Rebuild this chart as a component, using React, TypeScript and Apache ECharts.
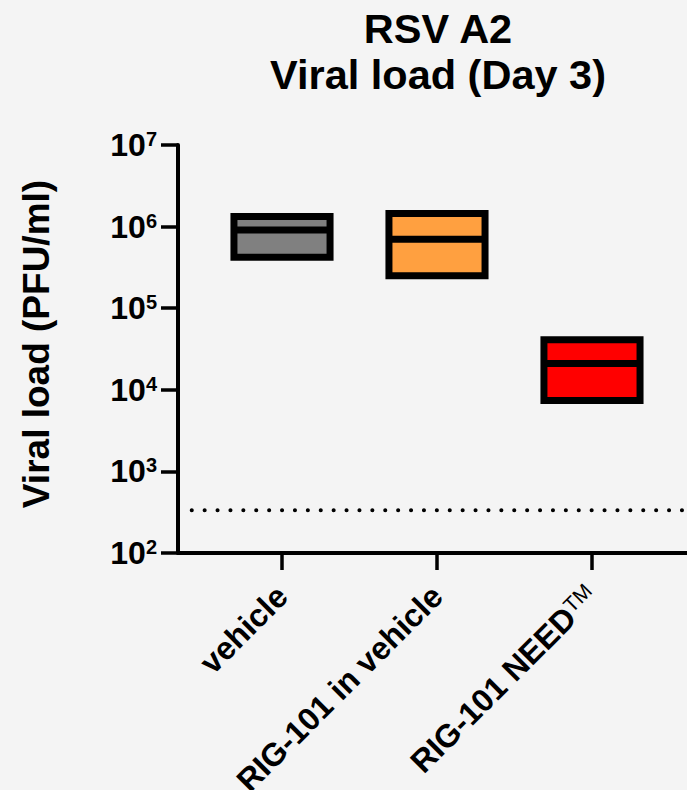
import React, { useEffect, useRef } from "react";
import * as echarts from "echarts";

const categories = ["vehicle", "RIG-101 in vehicle", "RIG-101 NEED"];
const lows = [4.2e5, 2.5e5, 7.4e3];
const medians = [9.1e5, 7.0e5, 2.1e4];
const highs = [1.33e6, 1.45e6, 4.1e4];
const barColors = ["#808080", "#ffa040", "#ff0000"];
const yTickExponents = [2, 3, 4, 5, 6, 7];
const lodValue = 333;
const titleLines = ["RSV A2", "Viral load (Day 3)"];
const yAxisTitle = "Viral load (PFU/ml)";

const FONT = '"Liberation Sans", Arial, Helvetica, sans-serif';

export default function App() {
  const ref = useRef<HTMLDivElement>(null);

  useEffect(() => {
    if (!ref.current) return;
    const chart = echarts.init(ref.current, undefined, { renderer: "svg" });

    const boxData = categories.map((c, i) => [i + 1, lows[i], medians[i], highs[i]]);

    const option: any = {
      animation: false,
      backgroundColor: "#f4f4f4",
      textStyle: { fontFamily: FONT },
      title: {
        text: titleLines.join("\n"),
        left: 433,
        top: 0,
        textAlign: "center",
        textStyle: {
          fontFamily: FONT,
          fontSize: 41.5,
          fontWeight: "bold",
          color: "#000",
          lineHeight: 46,
        },
      },
      graphic: [
        {
          type: "text",
          x: 36,
          y: 344,
          rotation: Math.PI / 2,
          style: {
            text: yAxisTitle,
            fontFamily: FONT,
            fontSize: 37,
            fontWeight: "bold",
            fill: "#000",
            align: "center",
            verticalAlign: "middle",
          },
        },
      ],
      grid: {
        left: 178,
        top: 145,
        right: 0,
        bottom: 237,
        containLabel: false,
        outerBoundsMode: "none",
      },
      xAxis: {
        type: "value",
        min: 0.329,
        max: 3.613,
        splitLine: { show: false },
        axisLine: { show: true, lineStyle: { color: "#000", width: 4 } },
        axisTick: {
          show: true,
          customValues: [1, 2, 3],
          length: 17,
          lineStyle: { color: "#000", width: 3.5 },
        },
        axisLabel: {
          customValues: [1, 2, 3],
          rotate: 45,
          margin: 38,
          fontFamily: FONT,
          fontSize: 32,
          fontWeight: "bold",
          color: "#000",
          formatter: (v: number) => {
            const idx = Math.round(v) - 1;
            const name = categories[idx] ?? "";
            return idx === 2 ? name + "{tm|TM}" : name;
          },
          rich: {
            tm: {
              fontFamily: FONT,
              fontSize: 21,
              fontWeight: "normal",
              color: "#000",
              verticalAlign: "top",
            },
          },
        },
      },
      yAxis: {
        type: "log",
        logBase: 10,
        min: 100,
        max: 1e7,
        splitLine: { show: false },
        axisLine: { show: true, lineStyle: { color: "#000", width: 4 } },
        axisTick: { show: true, length: 17, lineStyle: { color: "#000", width: 3.5 } },
        axisLabel: {
          margin: 21,
          customValues: yTickExponents.map((e) => Math.pow(10, e)),
          formatter: (v: number) => {
            const e = Math.round(Math.log10(v));
            return "{b|10}{s|" + e + "}";
          },
          rich: {
            b: { fontFamily: FONT, fontSize: 32, fontWeight: "bold", color: "#000", lineHeight: 32 },
            s: {
              fontFamily: FONT,
              fontSize: 20,
              fontWeight: "bold",
              color: "#000",
              verticalAlign: "top",
              lineHeight: 32,
            },
          },
        },
      },
      series: [
        {
          type: "line",
          data: [
            [0.4174, lodValue],
            [3.613, lodValue],
          ],
          symbol: "none",
          silent: true,
          lineStyle: { color: "#000", width: 4, type: [0.1, 12.8], cap: "round" },
        },
        {
          type: "custom",
          data: boxData,
          renderItem: (params: any, api: any) => {
            const x = api.value(0);
            const lo = api.value(1);
            const med = api.value(2);
            const hi = api.value(3);
            const idx = params.dataIndex;
            const w = api.size([1, 0])[0] * 0.62;
            const pTop = api.coord([x, hi]);
            const pBot = api.coord([x, lo]);
            const pMed = api.coord([x, med]);
            const cx = pTop[0];
            return {
              type: "group",
              children: [
                {
                  type: "rect",
                  shape: { x: cx - w / 2, y: pTop[1], width: w, height: pBot[1] - pTop[1] },
                  style: { fill: barColors[idx], stroke: "#000", lineWidth: 7 },
                },
                {
                  type: "line",
                  shape: { x1: cx - w / 2, y1: pMed[1], x2: cx + w / 2, y2: pMed[1] },
                  style: { stroke: "#000", lineWidth: 7 },
                },
              ],
            };
          },
        },
      ],
    };

    chart.setOption(option);
    return () => chart.dispose();
  }, []);

  return (
    <div
      ref={ref}
      style={{ position: "fixed", left: 0, top: 0, width: 687, height: 790, background: "#f4f4f4" }}
    />
  );
}
